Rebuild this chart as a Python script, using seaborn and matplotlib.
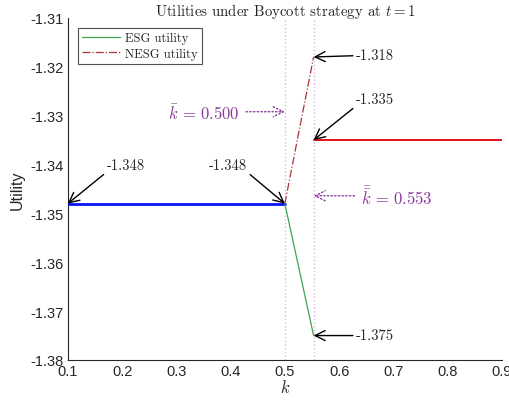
import matplotlib
matplotlib.use("Agg")
import matplotlib.pyplot as plt
import seaborn as sns
import numpy as np

sns.set_style("white")
plt.rcParams["font.family"] = ["Liberation Sans", "DejaVu Sans"]
plt.rcParams["mathtext.fontset"] = "cm"

# Thresholds
k_bar = 0.500
k_dbar = 0.553

# Utility values at the thresholds
u_low = -1.348      # common utility for k <= k_bar
u_esg_end = -1.375  # ESG utility at k_dbar
u_nesg_end = -1.318 # NESG utility at k_dbar
u_high = -1.335     # common utility for k >= k_dbar

# Segments
k_left = [0.1, k_bar]
u_left = [u_low, u_low]
k_mid = [k_bar, k_dbar]
u_esg_mid = [u_low, u_esg_end]
u_nesg_mid = [u_low, u_nesg_end]
k_right = [k_dbar, 0.9]
u_right = [u_high, u_high]

x_ticks = [0.1, 0.2, 0.3, 0.4, 0.5, 0.6, 0.7, 0.8, 0.9]
y_ticks = [-1.38, -1.37, -1.36, -1.35, -1.34, -1.33, -1.32, -1.31]

fig = plt.figure(figsize=(5.1, 4.02), dpi=100)
ax = fig.add_axes([0.133, 0.102, 0.851, 0.851])

CM = "cmr10"
plum = "#d4b8e4"
purple = "#8b3a9c"

ax.axvline(k_bar, color=plum, ls=":", lw=1.0, zorder=1)
ax.axvline(k_dbar, color=plum, ls=":", lw=1.0, zorder=1)

sns.lineplot(x=k_left, y=u_left, ax=ax, color="#0a14f5", lw=2.0, zorder=3)
sns.lineplot(x=k_mid, y=u_esg_mid, ax=ax, color="#3ea552", lw=0.9,
             label="ESG utility", zorder=3)
sns.lineplot(x=k_mid, y=u_nesg_mid, ax=ax, color="#a8343a", lw=0.9,
             ls="-.", label="NESG utility", zorder=3)
sns.lineplot(x=k_right, y=u_right, ax=ax, color="#e8101a", lw=1.4, zorder=3)

ax.set_xlim(0.1, 0.9)
ax.set_ylim(-1.38, -1.31)
ax.set_xticks(x_ticks)
ax.set_xticklabels([f"{v:.1f}" for v in x_ticks])
ax.set_yticks(y_ticks)
ax.set_yticklabels([f"{v:.2f}" for v in y_ticks])
ax.tick_params(direction="in", length=4, width=0.8, labelsize=10.5,
               colors="#262626", pad=3)
for s in ["top", "right"]:
    ax.spines[s].set_visible(False)
for s in ["left", "bottom"]:
    ax.spines[s].set_color("#262626")
    ax.spines[s].set_linewidth(0.8)

ax.set_xlabel("$k$", fontsize=12, labelpad=0)
ax.set_ylabel("Utility", fontsize=11.5)
ax.yaxis.set_label_coords(-0.1, 0.5)
ax.set_title("Utilities under Boycott strategy at $t = 1$", fontsize=10.7,
             pad=2, family=CM)

leg = ax.legend(loc="upper left", bbox_to_anchor=(0.023, 0.971), frameon=True,
                fancybox=False, edgecolor="#262626",
                prop={"family": CM, "size": 9},
                handlelength=3.0, borderpad=0.35, labelspacing=0.25,
                handletextpad=0.4, borderaxespad=0.0)
leg.get_frame().set_linewidth(0.8)

arrow_k = dict(arrowstyle="->", color="black", lw=1.0, mutation_scale=18,
               shrinkA=0, shrinkB=0)
tkw = dict(fontsize=10.5, family=CM, va="center")

ax.annotate("-1.318", xy=(k_dbar, u_nesg_end), xytext=(0.6315, -1.3176),
            arrowprops=arrow_k, ha="left", **tkw)
ax.annotate("-1.335", xy=(k_dbar, u_high), xytext=(0.6315, -1.3266),
            arrowprops=dict(arrow_k, relpos=(0.0, 0.0)), ha="left", **tkw)
ax.annotate("-1.348", xy=(0.1, u_low), xytext=(0.172, -1.3401),
            arrowprops=dict(arrow_k, relpos=(0.0, 0.0)), ha="left", **tkw)
ax.annotate("-1.348", xy=(k_bar, u_low), xytext=(0.430, -1.3401),
            arrowprops=dict(arrow_k, relpos=(1.0, 0.0)), ha="right", **tkw)
ax.annotate("-1.375", xy=(k_dbar, u_esg_end), xytext=(0.6315, u_esg_end),
            arrowprops=arrow_k, ha="left", **tkw)

arrow_p = dict(arrowstyle="->", color=purple, lw=1.0, ls=":", mutation_scale=18,
               shrinkA=2, shrinkB=0)
ax.annotate(r"$\bar{k}\,=\,0.500$", xy=(k_bar, -1.3292), xytext=(0.4175, -1.3292),
            arrowprops=arrow_p, ha="right", va="center", color=purple, fontsize=12)
ax.annotate(r"$\bar{\bar{k}}\,=\,0.553$", xy=(k_dbar, -1.3464), xytext=(0.6395, -1.3464),
            arrowprops=arrow_p, ha="left", va="center", color=purple, fontsize=12)

fig.savefig("out.png", dpi=100)
